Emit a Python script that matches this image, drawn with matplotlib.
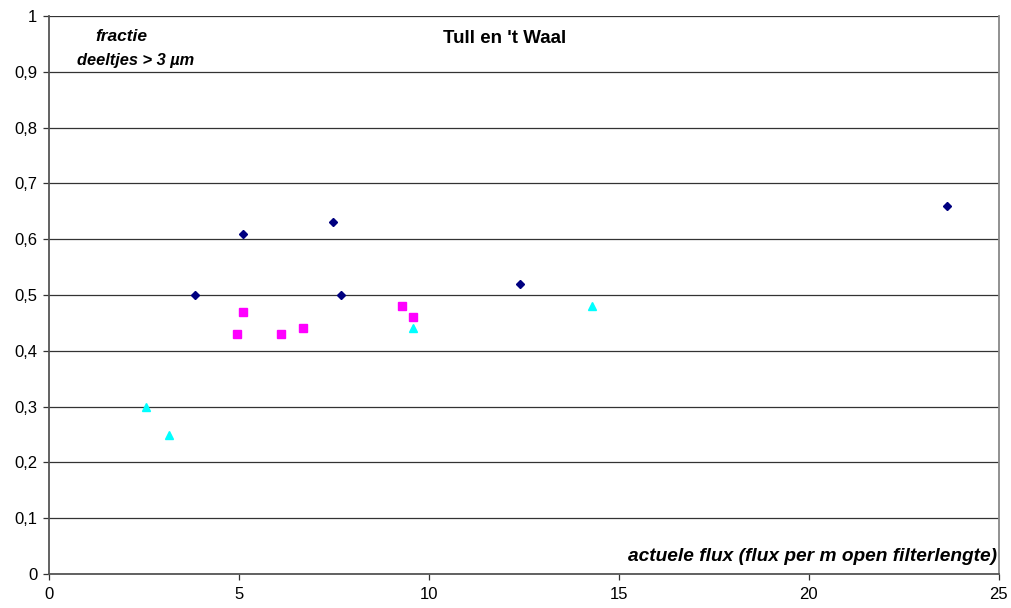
import matplotlib
matplotlib.use("Agg")
import matplotlib.pyplot as plt
from matplotlib.ticker import FuncFormatter, MultipleLocator

plt.rcParams['font.family'] = ['Liberation Sans', 'DejaVu Sans']

# flux (x) and fraction of particles > 3 µm (y) per series
diamond_x = [3.85, 5.1, 7.47, 7.68, 12.4, 23.63]
diamond_y = [0.50, 0.61, 0.63, 0.50, 0.52, 0.66]

square_x = [4.95, 5.1, 6.1, 6.68, 9.29, 9.58]
square_y = [0.43, 0.47, 0.43, 0.44, 0.48, 0.46]

triangle_x = [2.55, 3.16, 9.58, 14.3]
triangle_y = [0.30, 0.25, 0.44, 0.48]

x_ticks = [0, 5, 10, 15, 20, 25]

fig = plt.figure(figsize=(10.11, 6.08), dpi=100)
ax = fig.add_axes([0.0485, 0.0559, 0.9395, 0.9178])

ax.set_xlim(0, 25)
ax.set_ylim(0, 1)
ax.set_xticks(x_ticks)
ax.yaxis.set_major_locator(MultipleLocator(0.1))
ax.yaxis.set_major_formatter(FuncFormatter(
    lambda v, p: ('%g' % round(v, 1)).replace('.', ',')))

ax.grid(axis='y', color='#333333', linewidth=0.9)
ax.set_axisbelow(True)

for side in ('left', 'bottom'):
    ax.spines[side].set_color('#555555')
    ax.spines[side].set_linewidth(1.3)
ax.spines['right'].set_color('#888888')
ax.spines['right'].set_linewidth(1.3)
ax.spines['top'].set_visible(False)

ax.tick_params(axis='both', length=4.5, width=0.9, color='#333333',
               labelsize=12, direction='out')
ax.tick_params(axis='x', pad=5)
ax.tick_params(axis='y', pad=4)

ax.plot(diamond_x, diamond_y, linestyle='none', marker='D',
        markersize=4.2, color='#000080', zorder=3)
ax.plot(square_x, square_y, linestyle='none', marker='s',
        markersize=5.6, color='#ff00ff', zorder=3)
ax.plot(triangle_x, triangle_y, linestyle='none', marker='^',
        markersize=6, color='#00ffff', zorder=3)

ax.text(0.48, 0.96, "Tull en 't Waal", transform=ax.transAxes,
        ha='center', va='center', fontsize=13.5, fontweight='bold')
ax.text(0.0758, 0.963, 'fractie', transform=ax.transAxes,
        ha='center', va='center', fontsize=12.5, fontweight='bold',
        fontstyle='italic')
ax.text(0.091, 0.921, 'deeltjes > 3 µm', transform=ax.transAxes,
        ha='center', va='center', fontsize=11.8, fontweight='bold',
        fontstyle='italic')
ax.text(0.998, 0.032, 'actuele flux (flux per m open filterlengte)',
        transform=ax.transAxes, ha='right', va='center', fontsize=13.8,
        fontweight='bold', fontstyle='italic')

fig.savefig('out.png', dpi=100)
